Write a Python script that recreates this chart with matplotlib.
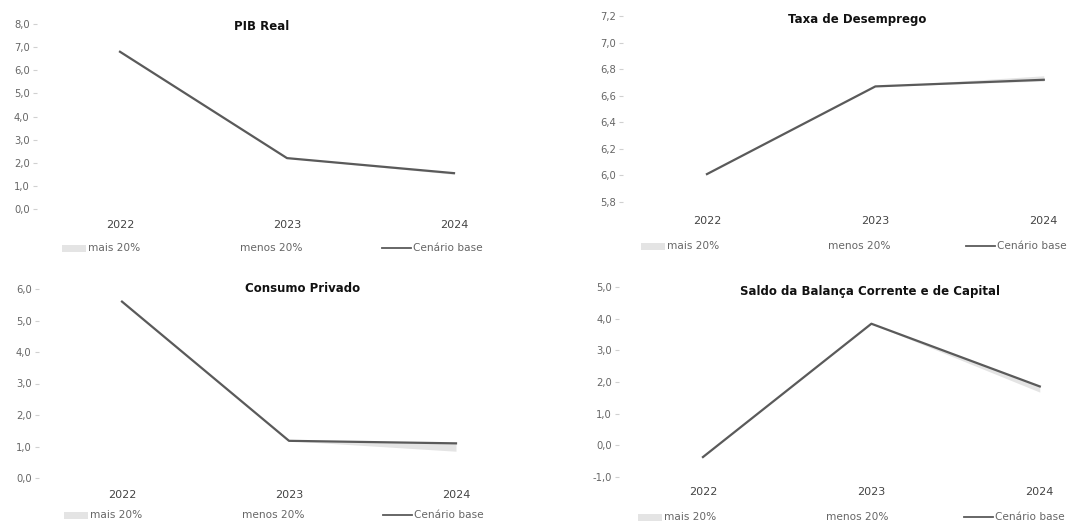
import matplotlib
matplotlib.use("Agg")
import matplotlib.pyplot as plt
from matplotlib.patches import Rectangle
from matplotlib.lines import Line2D
from matplotlib.ticker import FuncFormatter

# ==========================================================
# Data
# ==========================================================

years = ["2022", "2023", "2024"]

pib_base = [6.8, 2.2, 1.55]
pib_mais = [6.8, 2.2, 1.58]
pib_menos = [6.8, 2.2, 1.5]

desemp_base = [6.01, 6.67, 6.72]
desemp_mais = [6.01, 6.67, 6.75]
desemp_menos = [6.01, 6.67, 6.71]

consumo_base = [5.6, 1.18, 1.1]
consumo_mais = [5.6, 1.18, 1.1]
consumo_menos = [5.6, 1.18, 0.85]

saldo_base = [-0.37, 3.84, 1.86]
saldo_mais = [-0.37, 3.84, 1.88]
saldo_menos = [-0.37, 3.84, 1.68]

titles = ["PIB Real", "Taxa de Desemprego", "Consumo Privado",
          "Saldo da Balança Corrente e de Capital"]
legend_labels = ["mais 20%", "menos 20%", "Cenário base"]

# ==========================================================
# Style
# ==========================================================

W, H = 1076, 523
LINE = "#5a5a5a"
BAND = "#e4e4e4"
TXT = "#666666"

plt.rcParams["font.family"] = ["DejaVu Sans"]

fig = plt.figure(figsize=(W / 100, H / 100), dpi=100)


def comma(v, pos):
    return ("%.1f" % v).replace(".", ",")


def panel(rect, base, mais, menos, ylim, step, title, title_xy, pad, legend_y, leg_x):
    x0, y0, x1, y1 = rect
    ax = fig.add_axes([x0 / W, 1 - y1 / H, (x1 - x0) / W, (y1 - y0) / H])
    xs = range(len(years))
    ax.fill_between(xs, menos, mais, color=BAND, lw=0)
    ax.plot(xs, base, color=LINE, lw=1.6)
    ax.set_xlim(-0.5, len(years) - 0.5)
    ax.set_ylim(*ylim)
    n = int(round((ylim[1] - ylim[0]) / step))
    ax.set_yticks([ylim[0] + i * step for i in range(n + 1)])
    ax.yaxis.set_major_formatter(FuncFormatter(comma))
    ax.set_xticks(list(xs))
    ax.set_xticklabels(years)
    for s in ax.spines.values():
        s.set_visible(False)
    ax.tick_params(axis="y", length=3, color="#d0d0d0", labelsize=7.2,
                   labelcolor=TXT, pad=2)
    ax.tick_params(axis="x", length=0, labelsize=8, labelcolor="#444444", pad=pad)
    ax.patch.set_alpha(0)

    fig.text(title_xy[0] / W, 1 - title_xy[1] / H, title, ha="center", va="center",
             fontsize=8.5, fontweight="bold", color="#111111")

    # legend
    yl = 1 - legend_y / H
    fig.add_artist(Rectangle((leg_x[0] / W, yl - 3.5 / H), 24 / W, 7 / H,
                             transform=fig.transFigure, color=BAND, lw=0))
    fig.text((leg_x[0] + 26) / W, yl, legend_labels[0], ha="left", va="center",
             fontsize=7.6, color=TXT)
    fig.text(leg_x[1] / W, yl, legend_labels[1], ha="left", va="center",
             fontsize=7.6, color=TXT)
    fig.add_artist(Line2D([leg_x[2] / W, (leg_x[2] + 29) / W], [yl, yl],
                          transform=fig.transFigure, color=LINE, lw=1.3))
    fig.text((leg_x[2] + 31) / W, yl, legend_labels[2], ha="left", va="center",
             fontsize=7.6, color=TXT)
    return ax


panel((36.5, 24, 537.5, 209), pib_base, pib_mais, pib_menos, (0, 8), 1.0,
      titles[0], (262, 27), 8, 248, (62, 240, 382))

panel((622.75, 16, 1128, 202), desemp_base, desemp_mais, desemp_menos, (5.8, 7.2), 0.2,
      titles[1], (857, 20), 10, 246, (641, 828, 966))

panel((38.5, 289, 539.5, 478), consumo_base, consumo_mais, consumo_menos, (0, 6), 1.0,
      titles[2], (303, 289), 8.5, 515, (64, 242, 383))

panel((618.75, 287, 1124, 477), saldo_base, saldo_mais, saldo_menos, (-1, 5), 1.0,
      titles[3], (870, 292), 7.5, 517, (638, 826, 964))

fig.savefig("out.png", dpi=100, facecolor="white")
